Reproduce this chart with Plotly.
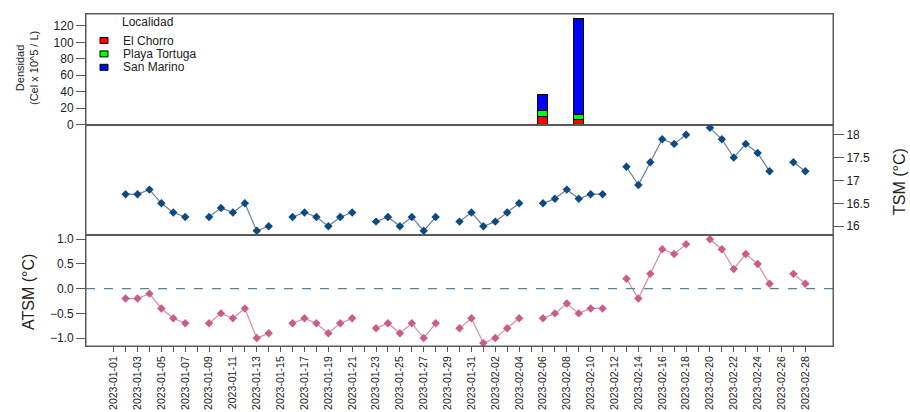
import pandas as pd
import plotly.graph_objects as go
from plotly.subplots import make_subplots

# ---- data -------------------------------------------------------------
dias = pd.date_range("2023-01-01", "2023-02-28", freq="D")

# sea surface temperature (°C), one value per day, None = no measurement
tsm = [None,
       16.7, 16.7, 16.8, 16.5, 16.3, 16.2, None,
       16.2, 16.4, 16.3, 16.5, 15.9, 16.0, None,
       16.2, 16.3, 16.2, 16.0, 16.2, 16.3, None,
       16.1, 16.2, 16.0, 16.2, 15.9, 16.2, None,
       16.1, 16.3, 16.0, 16.1, 16.3, 16.5, None,
       16.5, 16.6, 16.8, 16.6, 16.7, 16.7, None,
       17.3, 16.9, 17.4, 17.9, 17.8, 18.0, None,
       18.15, 17.9, 17.5, 17.8, 17.6, 17.2, None,
       17.4, 17.2]

# sea surface temperature anomaly (°C)
atsm = [None,
        -0.2, -0.2, -0.1, -0.4, -0.6, -0.7, None,
        -0.7, -0.5, -0.6, -0.4, -1.0, -0.9, None,
        -0.7, -0.6, -0.7, -0.9, -0.7, -0.6, None,
        -0.8, -0.7, -0.9, -0.7, -1.0, -0.7, None,
        -0.8, -0.6, -1.1, -1.0, -0.8, -0.6, None,
        -0.6, -0.5, -0.3, -0.5, -0.4, -0.4, None,
        0.2, -0.2, 0.3, 0.8, 0.7, 0.9, None,
        1.0, 0.8, 0.4, 0.7, 0.5, 0.1, None,
        0.3, 0.1]

# cell density per sampling date and locality (Cel x 10^5 / L)
fechas_muestreo = ["2023-02-06", "2023-02-09"]
localidades = ["El Chorro", "Playa Tortuga", "San Marino"]
colores_localidad = ["#FF0000", "#00FF00", "#0000FF"]
densidad_el_chorro = [9, 6]
densidad_playa_tortuga = [7, 6]
densidad_san_marino = [20, 116]
densidades = [densidad_el_chorro, densidad_playa_tortuga, densidad_san_marino]

etiquetas_x = [d.strftime("%Y-%m-%d") if i % 2 == 0 else "" for i, d in enumerate(dias)]

# ---- layout constants -------------------------------------------------
W, H = 910, 412
ML, MR, MT, MB = 86, 77, 14, 66
PW, PH = W - ML - MR, H - MT - MB
FONT = "Liberation Sans, Arial, sans-serif"
FRAME = "#5a5a5a"
TXT = "#222222"


def px_x(px):
    return (px - ML) / PW


def px_y(py):
    return (H - MB - py) / PH


fig = make_subplots(rows=3, cols=1, shared_xaxes=True, vertical_spacing=0)

# stacked density bars
for nombre, color, vals in zip(localidades, colores_localidad, densidades):
    fig.add_trace(go.Bar(
        x=fechas_muestreo, y=vals, name=nombre,
        marker=dict(color=color, line=dict(color="#000000", width=1)),
        width=0.8 * 86400000, showlegend=False,
    ), row=1, col=1)

# TSM series
fig.add_trace(go.Scatter(
    x=dias, y=tsm, mode="lines+markers", connectgaps=False, showlegend=False,
    line=dict(color="#6b7f92", width=1.2),
    marker=dict(symbol="diamond", size=6.5, color="#0d4a80"),
), row=2, col=1)

# ATSM series
fig.add_trace(go.Scatter(
    x=dias, y=atsm, mode="lines+markers", connectgaps=False, showlegend=False,
    line=dict(color="#d58fab", width=1.2),
    marker=dict(symbol="diamond", size=6.5, color="#c95d88"),
), row=3, col=1)

fig.add_hline(y=0, line=dict(color="#5f8194", width=1.2, dash="dash"), row=3, col=1)

x0 = dias[0] - pd.Timedelta(days=2.32)
x1 = dias[-1] + pd.Timedelta(days=2.32)

frame_axis = dict(showline=True, linecolor=FRAME, linewidth=1, mirror=True,
                  showgrid=False, zeroline=False, automargin=False)
tick_font = dict(family=FONT, size=12, color=TXT)

for r in (1, 2, 3):
    fig.update_xaxes(range=[x0, x1], **frame_axis, row=r, col=1)
    # box around each panel
    xr = "x domain" if r == 1 else f"x{r} domain"
    yr = "y domain" if r == 1 else f"y{r} domain"
    fig.add_shape(type="rect", xref=xr, yref=yr, x0=0, x1=1, y0=0, y1=1,
                  line=dict(color=FRAME, width=1), fillcolor="rgba(0,0,0,0)")
fig.update_xaxes(showticklabels=False, ticks="", row=1, col=1)
fig.update_xaxes(showticklabels=False, ticks="", row=2, col=1)
fig.update_xaxes(tickmode="array", tickvals=list(dias), ticktext=etiquetas_x,
                 tickangle=-90, ticks="outside", ticklen=5, tickcolor=FRAME,
                 tickfont=dict(family=FONT, size=10.5, color=TXT),
                 row=3, col=1)

fig.update_yaxes(range=[0, 134.4], tickvals=[0, 20, 40, 60, 80, 100, 120],
                 ticks="outside", ticklen=9, tickcolor=FRAME, tickfont=tick_font,
                 **frame_axis, row=1, col=1)
fig.update_yaxes(range=[15.8, 18.22], tickvals=[16, 16.5, 17, 17.5, 18],
                 ticktext=["16", "16.5", "17", "17.5", "18"], side="right",
                 ticks="outside", ticklen=10, tickcolor=FRAME, tickfont=tick_font,
                 **frame_axis, row=2, col=1)
fig.update_yaxes(range=[-1.16, 1.08], tickvals=[-1, -0.5, 0, 0.5, 1],
                 tickformat=".1f", ticks="outside", ticklen=9, tickcolor=FRAME,
                 tickfont=tick_font, **frame_axis, row=3, col=1)

# axis titles and the locality key
annotations = [
    dict(text="Densidad<br>(Cel x 10^5 / L)", x=px_x(27), y=px_y(68),
         textangle=-90, font=dict(family=FONT, size=11, color=TXT)),
    dict(text="TSM (°C)", x=px_x(899), y=px_y(182),
         textangle=-90, font=dict(family=FONT, size=16, color=TXT)),
    dict(text="ATSM (°C)", x=px_x(28), y=px_y(292),
         textangle=-90, font=dict(family=FONT, size=16, color=TXT)),
    dict(text="Localidad", x=px_x(121), y=px_y(22), xanchor="left",
         font=dict(family=FONT, size=12, color=TXT)),
]
for i, (nombre, color) in enumerate(zip(localidades, colores_localidad)):
    yc = 40.5 + 13.4 * i
    fig.add_shape(type="rect", xref="paper", yref="paper",
                  x0=px_x(100), x1=px_x(108), y0=px_y(yc + 3), y1=px_y(yc - 3),
                  fillcolor=color, line=dict(color="#000000", width=1))
    annotations.append(dict(text=nombre, x=px_x(122), y=px_y(yc), xanchor="left",
                            font=dict(family=FONT, size=12, color=TXT)))

for a in annotations:
    a.update(xref="paper", yref="paper", showarrow=False, borderpad=0)
    a.setdefault("xanchor", "center")
    a.setdefault("yanchor", "middle")

fig.update_layout(
    width=W, height=H, autosize=False,
    margin=dict(l=ML, r=MR, t=MT, b=MB, pad=0),
    barmode="stack", bargap=0,
    plot_bgcolor="white", paper_bgcolor="white",
    annotations=annotations,
    font=dict(family=FONT),
)

fig.write_html("out.html")
